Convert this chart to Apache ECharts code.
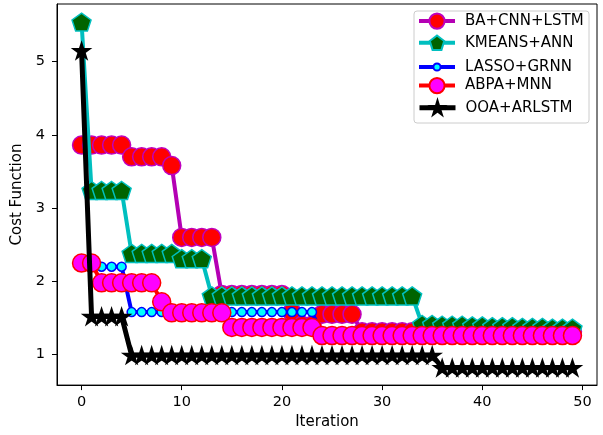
<!DOCTYPE html>
<html>
<head>
<meta charset="utf-8">
<script src="https://cdn.jsdelivr.net/npm/echarts@6/dist/echarts.min.js"></script>
<style>
  html, body { margin: 0; padding: 0; background: #fff; }
  #chart { width: 603px; height: 435px; }
</style>
</head>
<body>
<div id="chart"></div>
<script>
// iteration numbers (x)
const iterations = [
  0, 1, 2, 3, 4, 5, 6, 7, 8, 9, 10, 11, 12, 13, 14, 15, 16, 17, 18, 19,
  20, 21, 22, 23, 24, 25, 26, 27, 28, 29, 30, 31, 32, 33, 34, 35, 36, 37, 38, 39,
  40, 41, 42, 43, 44, 45, 46, 47, 48, 49
];
const xTicks = [0, 10, 20, 30, 40, 50];
const yTicks = [1, 2, 3, 4, 5];

const seriesNames = ["BA+CNN+LSTM", "KMEANS+ANN", "LASSO+GRNN", "ABPA+MNN", "OOA+ARLSTM"];

const baCnnLstm = [
  3.86, 3.86, 3.86, 3.86, 3.86, 3.70, 3.70, 3.70, 3.70, 3.58,
  2.60, 2.60, 2.60, 2.60, 1.82, 1.82, 1.82, 1.82, 1.82, 1.82,
  1.82, 1.58, 1.40, 1.40, 1.55, 1.55, 1.55, 1.55, 1.31, 1.31,
  1.31, 1.31, 1.31, 1.31, 1.31, 1.31, 1.31, 1.31, 1.31, 1.31,
  1.31, 1.31, 1.31, 1.31, 1.31, 1.31, 1.31, 1.31, 1.31, 1.31
];
const kmeansAnn = [
  5.54, 3.24, 3.24, 3.24, 3.24, 2.38, 2.38, 2.38, 2.38, 2.38,
  2.31, 2.31, 2.31, 1.80, 1.80, 1.80, 1.80, 1.80, 1.80, 1.80,
  1.80, 1.80, 1.80, 1.80, 1.80, 1.80, 1.80, 1.80, 1.80, 1.80,
  1.80, 1.80, 1.80, 1.80, 1.41, 1.41, 1.40, 1.40, 1.40, 1.39,
  1.39, 1.38, 1.38, 1.38, 1.37, 1.37, 1.37, 1.36, 1.36, 1.36
];
const lassoGrnn = [
  2.25, 2.20, 2.20, 2.20, 2.20, 1.58, 1.58, 1.58, 1.58, 1.58,
  1.58, 1.58, 1.58, 1.58, 1.58, 1.58, 1.58, 1.58, 1.58, 1.58,
  1.58, 1.58, 1.58, 1.58, 1.27, 1.27, 1.27, 1.27, 1.27, 1.27,
  1.27, 1.27, 1.27, 1.27, 1.27, 1.27, 1.27, 1.27, 1.27, 1.27,
  1.27, 1.27, 1.27, 1.27, 1.27, 1.27, 1.27, 1.27, 1.27, 1.27
];
const abpaMnn = [
  2.25, 2.25, 1.98, 1.98, 1.98, 1.98, 1.98, 1.98, 1.72, 1.57,
  1.57, 1.57, 1.57, 1.57, 1.57, 1.37, 1.37, 1.37, 1.37, 1.37,
  1.37, 1.37, 1.37, 1.37, 1.26, 1.26, 1.26, 1.26, 1.26, 1.26,
  1.26, 1.26, 1.26, 1.26, 1.26, 1.26, 1.26, 1.26, 1.26, 1.26,
  1.26, 1.26, 1.26, 1.26, 1.26, 1.26, 1.26, 1.26, 1.26, 1.26
];
const ooaArlstm = [
  5.15, 1.52, 1.52, 1.52, 1.52, 0.99, 0.99, 0.99, 0.99, 0.99,
  0.99, 0.99, 0.99, 0.99, 0.99, 0.99, 0.99, 0.99, 0.99, 0.99,
  0.99, 0.99, 0.99, 0.99, 0.99, 0.99, 0.99, 0.99, 0.99, 0.99,
  0.99, 0.99, 0.99, 0.99, 0.99, 0.99, 0.82, 0.82, 0.82, 0.82,
  0.82, 0.82, 0.82, 0.82, 0.82, 0.82, 0.82, 0.82, 0.82, 0.82
];

// marker shapes (matplotlib 'p' and '*')
const pentagon = "path://M0,-100L95.1,-30.9L58.78,80.9L-58.78,80.9L-95.1,-30.9Z";
const star = "path://M0,-100L22.45,-30.9L95.1,-30.9L36.33,11.8L58.78,80.9L0,38.2L-58.78,80.9L-36.33,11.8L-95.1,-30.9L-22.45,-30.9Z";

const font = "DejaVu Sans";
const lineWidths = [4, 4, 4, 4, 5];

function pairs(values) {
  return values.map((v, i) => [iterations[i], v]);
}

// one line series, matplotlib look
function makeSeries(name, values, lineColor, width, symbol, size, fill, edge, z) {
  return {
    name: name,
    type: "line",
    data: pairs(values),
    z: z,
    silent: true,
    showAllSymbol: true,
    symbol: symbol,
    symbolSize: size,
    symbolKeepAspect: true,
    lineStyle: { color: lineColor, width: width },
    itemStyle: { color: fill, borderColor: edge, borderWidth: 1.5 },
    emphasis: { disabled: true },
  };
}

const series = [
  makeSeries(seriesNames[0], baCnnLstm, "#b400b4", lineWidths[0], "circle", 18, "#ff0000", "#bf00bf", 2),
  makeSeries(seriesNames[1], kmeansAnn, "#00bfbf", lineWidths[1], pentagon, 19, "#006400", "#00bfbf", 3),
  makeSeries(seriesNames[2], lassoGrnn, "#0000ff", lineWidths[2], "circle", 9, "#00ffff", "#0000ff", 4),
  makeSeries(seriesNames[3], abpaMnn, "#ff0000", lineWidths[3], "circle", 18, "#ff00ff", "#ff0000", 5),
  makeSeries(seriesNames[4], ooaArlstm, "#000000", lineWidths[4], star, 17, "#000000", "#000000", 6),
];

// legend: one block per entry so each keeps its own marker size
const legendCenters = [22, 43.5, 64, 86.5, 108.5];
const legendHeights = [19, 18, 9, 19, 18];
const legends = seriesNames.map((n, i) => ({
  data: [n],
  orient: "vertical",
  left: 417,
  top: legendCenters[i] - legendHeights[i] / 2,
  padding: 0,
  itemWidth: 36,
  itemHeight: legendHeights[i],
  selectedMode: false,
  z: 20,
  lineStyle: { width: lineWidths[i] },
  textStyle: { fontFamily: font, fontSize: 15, color: "#000", padding: [0, 0, 0, 5] },
}));

const axisCommon = {
  type: "value",
  axisLine: { show: true, onZero: false, lineStyle: { color: "#000", width: 1 } },
  axisTick: { show: true, inside: false, length: 5, lineStyle: { color: "#000", width: 1 } },
  splitLine: { show: false },
  nameLocation: "middle",
  nameTextStyle: { fontFamily: font, fontSize: 15, color: "#000" },
};

const chart = echarts.init(document.getElementById("chart"));
chart.setOption({
  animation: false,
  backgroundColor: "#fff",
  grid: {
    left: 57, right: 6, top: 4, bottom: 49,
    show: true, borderColor: "#000", borderWidth: 1, backgroundColor: "transparent",
  },
  xAxis: Object.assign({}, axisCommon, {
    min: -2.45,
    max: 51.45,
    name: "Iteration",
    nameGap: 29,
    axisTick: Object.assign({}, axisCommon.axisTick, { customValues: xTicks }),
    axisLabel: { customValues: xTicks, fontFamily: font, fontSize: 14.5, color: "#000", margin: 10 },
  }),
  yAxis: Object.assign({}, axisCommon, {
    min: 0.583,
    max: 5.787,
    name: "Cost Function",
    nameGap: 25,
    axisTick: Object.assign({}, axisCommon.axisTick, { customValues: yTicks }),
    axisLabel: { customValues: yTicks, fontFamily: font, fontSize: 14.5, color: "#000", margin: 12 },
  }),
  legend: legends,
  graphic: [
    {
      type: "rect",
      z: 15,
      silent: true,
      shape: { x: 414, y: 11, width: 175, height: 112, r: 3 },
      style: { fill: "rgba(255,255,255,0.8)", stroke: "#cccccc", lineWidth: 1 },
    },
  ],
  series: series,
});
</script>
</body>
</html>
